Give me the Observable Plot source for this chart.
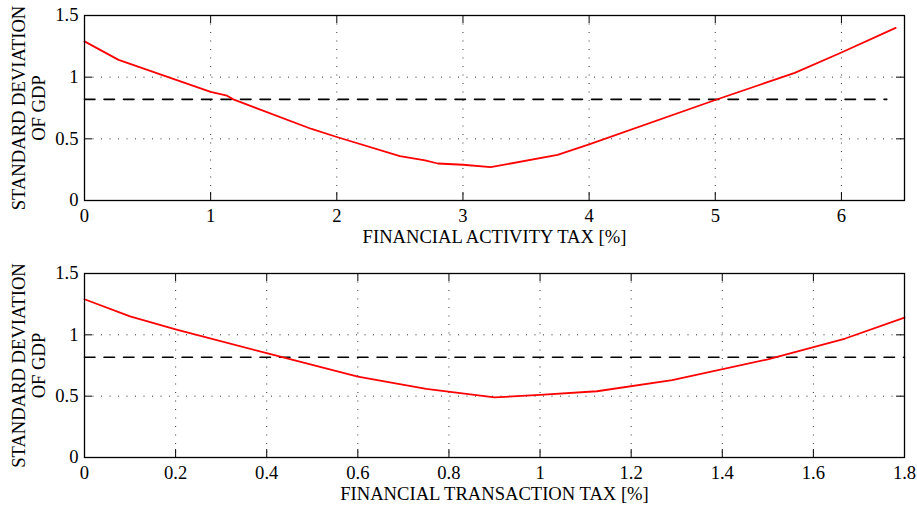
<!DOCTYPE html>
<html>
<head>
<meta charset="utf-8">
<script src="https://cdn.jsdelivr.net/npm/d3@7"></script>
<script src="https://cdn.jsdelivr.net/npm/@observablehq/plot@0.6"></script>
<style>
  html, body { margin: 0; padding: 0; background: #fff; }
  #chart > * { display: block; }
</style>
</head>
<body>
<div id="chart"></div>
<script>
// ---- Data ----
const yLabelLines = ["STANDARD DEVIATION", "OF GDP"];
const yTicks = [0, 0.5, 1, 1.5];

// Panel 1: Financial activity tax
const faLabel = "FINANCIAL ACTIVITY TAX [%]";
const faXTicks = [0, 1, 2, 3, 4, 5, 6];
const faDomain = [0, 6.5];
const faX = [0, 0.27, 1.0, 1.13, 1.18, 1.8, 2.0, 2.5, 2.7, 2.8, 3.0, 3.22, 3.75, 4.0, 5.0, 5.63, 6.0, 6.43];
const faY = [1.29, 1.14, 0.88, 0.85, 0.82, 0.58, 0.515, 0.36, 0.325, 0.30, 0.29, 0.27, 0.37, 0.455, 0.815, 1.035, 1.20, 1.40];
const faRefX = [0, 6.36];
const faRefY = [0.82, 0.82];

// Panel 2: Financial transaction tax
const ftLabel = "FINANCIAL TRANSACTION TAX [%]";
const ftXTicks = [0, 0.2, 0.4, 0.6, 0.8, 1, 1.2, 1.4, 1.6, 1.8];
const ftDomain = [0, 1.8];
const ftX = [0, 0.1, 0.2, 0.4, 0.6, 0.75, 0.9, 1.0, 1.125, 1.29, 1.5, 1.67, 1.8];
const ftY = [1.29, 1.15, 1.045, 0.85, 0.66, 0.56, 0.49, 0.51, 0.54, 0.63, 0.80, 0.97, 1.14];
const ftRefX = [0, 1.8];
const ftRefY = [0.817, 0.817];

function panel({xLabel, xTicks, domain, xs, ys, refX, refY, height, marginTop, marginBottom}) {
  const W = 917, mL = 84, mR = 13;
  const plotH = height - marginTop - marginBottom;
  const plotW = W - mL - mR;
  const tickLen = 8;
  const series = xs.map((x, i) => ({x, y: ys[i]}));
  const ref = refX.map((x, i) => ({x, y: refY[i]}));
  const fmt = d => String(d);
  return Plot.plot({
    width: W,
    height,
    marginLeft: mL,
    marginRight: mR,
    marginTop,
    marginBottom,
    style: {fontFamily: "'Liberation Serif', 'Times New Roman', serif", fontSize: "18.6px", background: "#fff", color: "#000", overflow: "visible"},
    x: {domain, ticks: xTicks, tickSize: 0, tickPadding: 8, tickFormat: fmt, label: null},
    y: {domain: [0, 1.5], ticks: yTicks, tickSize: 0, tickPadding: 6, tickFormat: fmt, label: null},
    marks: [
      // dotted grid
      Plot.ruleX(xTicks, {x: d => d, stroke: "#000", strokeWidth: 1, strokeDasharray: "1,7.5", strokeOpacity: 0.8}),
      Plot.ruleY(yTicks, {y: d => d, stroke: "#000", strokeWidth: 1, strokeDasharray: "1,7.5", strokeOpacity: 0.8}),
      // inward ticks on all four sides
      Plot.tickX(xTicks, {x: d => d, stroke: "#000", insetTop: plotH - tickLen}),
      Plot.tickX(xTicks, {x: d => d, stroke: "#000", insetBottom: plotH - tickLen}),
      Plot.tickY(yTicks, {y: d => d, stroke: "#000", insetRight: plotW - tickLen}),
      Plot.tickY(yTicks, {y: d => d, stroke: "#000", insetLeft: plotW - tickLen}),
      // threshold
      Plot.line(ref, {x: "x", y: "y", stroke: "#000", strokeWidth: 1.6, strokeDasharray: "10.5,9"}),
      // series
      Plot.line(series, {x: "x", y: "y", stroke: "#ff0000", strokeWidth: 1.8}),
      Plot.frame({stroke: "#000", strokeWidth: 1.3}),
      // axis titles
      Plot.text([xLabel], {text: d => d, frameAnchor: "bottom", textAnchor: "middle", lineAnchor: "middle", dy: 37, fill: "#000"}),
      Plot.text([yLabelLines[0]], {text: d => d, frameAnchor: "left", textAnchor: "middle", rotate: -90, lineAnchor: "middle", dx: -65.5, fill: "#000"}),
      Plot.text([yLabelLines[1]], {text: d => d, frameAnchor: "left", textAnchor: "middle", rotate: -90, lineAnchor: "middle", dx: -45, fill: "#000"})
    ]
  });
}

const chart = document.getElementById("chart");
chart.appendChild(panel({xLabel: faLabel, xTicks: faXTicks, domain: faDomain, xs: faX, ys: faY, refX: faRefX, refY: faRefY, height: 250, marginTop: 15, marginBottom: 50}));
chart.appendChild(panel({xLabel: ftLabel, xTicks: ftXTicks, domain: ftDomain, xs: ftX, ys: ftY, refX: ftRefX, refY: ftRefY, height: 256, marginTop: 23, marginBottom: 49}));
</script>
</body>
</html>
